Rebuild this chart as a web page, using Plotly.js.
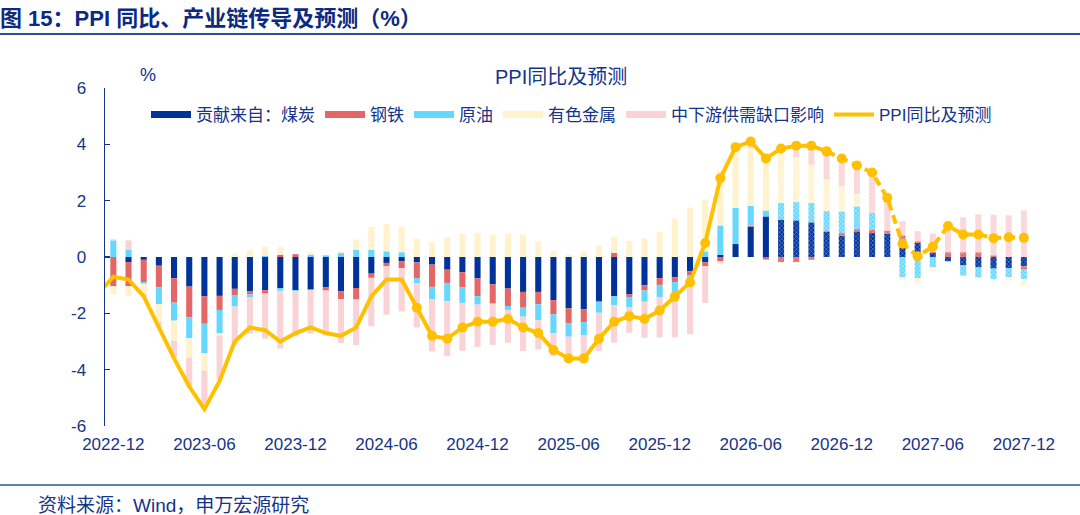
<!DOCTYPE html>
<html>
<head>
<meta charset="utf-8">
<script src="https://cdn.plot.ly/plotly-3.0.1.min.js"></script>
<style>
html,body{margin:0;padding:0;background:#fff;}
#chart{width:1080px;height:515px;}
</style>
</head>
<body>
<div id="chart"></div>
<script>
// ---------- DATA ----------
const months = ['2022-11','2022-12','2023-01','2023-02','2023-03','2023-04','2023-05','2023-06','2023-07','2023-08','2023-09','2023-10','2023-11','2023-12',
'2024-01','2024-02','2024-03','2024-04','2024-05','2024-06','2024-07','2024-08','2024-09','2024-10','2024-11','2024-12',
'2025-01','2025-02','2025-03','2025-04','2025-05','2025-06','2025-07','2025-08','2025-09','2025-10','2025-11','2025-12',
'2026-01','2026-02','2026-03','2026-04','2026-05','2026-06','2026-07','2026-08','2026-09','2026-10','2026-11','2026-12',
'2027-01','2027-02','2027-03','2027-04','2027-05','2027-06','2027-07','2027-08','2027-09','2027-10','2027-11','2027-12'];

const tickLabels = ['2022-12','2023-06','2023-12','2024-06','2024-12','2025-06','2025-12','2026-06','2026-12','2027-06','2027-12'];
const yTickVals = [-6,-4,-2,0,2,4,6];
const yTickText = ['-6','-4','-2','0','2','4','6'];

const coal = [null,0,-0.18,-0.1,-0.31,-0.75,-1.05,-1.4,-1.38,-1.13,-1.21,-1.18,-1.1,-1.18,
-1.16,-1.08,-1.22,-1.1,-0.59,-0.21,-0.15,-0.19,-0.27,-0.45,-0.54,-0.76,
-0.97,-1.12,-1.24,-1.24,-1.53,-1.82,-1.86,-1.56,-1.39,-1.33,-1.0,-0.75,
-0.72,-0.51,-0.19,0.08,0.46,1.07,1.44,1.33,1.3,1.23,0.89,0.76,
0.91,0.85,0.82,0.65,0.5,0.14,-0.15,-0.3,-0.37,-0.41,-0.39,-0.33];

const steel = [null,-1.04,-0.86,-0.79,-0.77,-0.87,-1.09,-0.97,-0.5,-0.24,-0.12,-0.12,0.08,0.1,
0,-0.11,-0.27,-0.41,-0.15,-0.12,-0.24,-0.56,-0.79,-0.47,-0.53,-0.63,
-0.67,-0.62,-0.56,-0.44,-0.51,-0.54,-0.45,-0.04,0.15,-0.09,-0.19,-0.24,
-0.17,-0.14,-0.14,-0.15,0,0.04,-0.09,-0.18,-0.18,-0.1,0.05,0.09,
0.08,0.11,0.12,0.12,0.06,0.04,0.17,0.17,0.17,0.06,0,-0.12];

const oil = [null,0.59,0.27,-0.06,-0.59,-0.64,-0.75,-1.04,-0.83,-0.39,-0.09,0.05,-0.1,-0.04,
0.08,0.06,0.14,0.26,0.26,0.2,0.17,-0.18,-0.43,-0.65,-0.56,-0.3,
-0.04,-0.14,-0.32,-0.56,-0.67,-0.47,-0.47,-0.38,-0.32,-0.36,-0.4,-0.44,
-0.36,-0.12,0.2,1.04,1.28,0.7,0.21,0.6,0.65,0.69,0.69,0.77,
0.81,0.6,0,-0.72,-0.75,-0.36,0,-0.36,-0.36,-0.37,-0.32,-0.33];

const nonferrous = [null,-0.28,-0.34,-0.36,-0.65,-0.71,-0.69,-0.62,-0.08,0.12,0.24,0.32,0.27,0,
0.08,0,0.06,0.36,0.8,0.97,0.9,0.65,0.52,0.7,0.83,0.86,
0.8,0.83,0.8,0.54,0.21,0.09,0.19,0.41,0.57,0.57,0.65,0.89,
1.36,1.76,1.84,1.95,2.16,2.05,1.94,1.9,1.6,1.34,1.13,0.89,
0.44,0,-0.09,-0.1,-0.18,-0.13,0,0,-0.03,-0.06,-0.12,-0.22];

const downstream = [null,0.04,0.32,-0.1,-0.18,-0.6,-1.0,-1.35,-1.55,-1.36,-1.3,-1.6,-2.05,-1.6,
-1.56,-1.6,-1.56,-1.62,-1.72,-1.72,-1.54,-1.57,-1.86,-1.95,-1.7,-1.5,
-1.44,-1.16,-1.22,-1.04,-0.8,-0.86,-1.0,-1.36,-1.33,-0.91,-1.28,-1.43,
-1.6,-1.97,-1.3,-0.08,0,0.18,0,0,0.3,0.6,0.95,0.95,
0.95,1.36,1.2,0.5,0.36,0.65,1.1,1.24,1.34,1.44,1.48,1.65];

const ppi = [-1.3,-0.7,-0.8,-1.4,-2.5,-3.6,-4.6,-5.4,-4.4,-3.0,-2.5,-2.6,-3.0,-2.7,
-2.5,-2.7,-2.8,-2.5,-1.4,-0.8,-0.8,-1.8,-2.8,-2.9,-2.5,-2.3,
-2.3,-2.2,-2.5,-2.7,-3.3,-3.6,-3.6,-2.9,-2.3,-2.1,-2.2,-1.9,
-1.4,-0.9,0.5,2.8,3.9,4.1,3.5,3.85,3.95,3.95,3.75,3.5,
3.25,3.0,2.1,0.47,0.03,0.37,1.1,0.8,0.8,0.67,0.7,0.68];

const seriesNames = ['贡献来自：煤炭','钢铁','原油','有色金属','中下游供需缺口影响'];
const lineName = 'PPI同比及预测';
const markerStart = '2024-08';   // line markers shown from here
const dashStart = '2026-11';     // dashed forecast line from here
const hatchStart = '2026-08';    // hatched forecast bars from here

// ---------- STYLE ----------
const NAVY = '#14348a';
const TITLE_NAVY = '#0c2a80';
const FONT = 'Liberation Sans, Arial, Noto Sans CJK SC, sans-serif';
const colors = ['#003399','#e46767','#66d7ff','#fff2cc','#f9d3d5'];
const hatchFg = ['#6f8fd6','#f4a9a9','#c9f1ff','#fffaf0','#fde9ea'];
const GOLD = '#ffc000';

const L=105, R=1031, T=88, B=426;
const W=R-L, H=B-T;
const px = v => (v-L)/W;
const py = v => (B-v)/H;

const series = [coal, steel, oil, nonferrous, downstream];
const traces = [];

series.forEach((vals, k) => {
  traces.push({
    type:'bar', x:months, y:vals, name:seriesNames[k], showlegend:false,
    marker:{color:colors[k], line:{width:0},
      pattern:{shape: months.map(m => m >= hatchStart ? 'x' : ''),
               fgcolor: hatchFg[k], bgcolor: colors[k], size:3, solidity:0.35, fillmode:'replace'}},
    hoverinfo:'skip'
  });
});

const iM = months.indexOf(markerStart);
const iD = months.indexOf(dashStart);

traces.push({type:'scatter', mode:'lines', x:months.slice(0,iM+1), y:ppi.slice(0,iM+1),
  line:{color:GOLD, width:4}, showlegend:false, hoverinfo:'skip'});
traces.push({type:'scatter', mode:'lines+markers', x:months.slice(iM,iD+1), y:ppi.slice(iM,iD+1),
  line:{color:GOLD, width:4}, marker:{color:GOLD, size:10}, showlegend:false, hoverinfo:'skip'});
traces.push({type:'scatter', mode:'lines+markers', x:months.slice(iD), y:ppi.slice(iD),
  line:{color:GOLD, width:4, dash:'9px,5px'}, marker:{color:GOLD, size:10}, showlegend:false, hoverinfo:'skip'});

// legend entries (wide swatches like the original)
seriesNames.forEach((n,k) => {
  traces.push({type:'scatter', mode:'lines', x:[null], y:[null], name:n,
    line:{color:colors[k], width:7}, showlegend:true, hoverinfo:'skip'});
});
traces.push({type:'scatter', mode:'lines', x:[null], y:[null], name:lineName,
  line:{color:GOLD, width:4}, showlegend:true, hoverinfo:'skip'});

const xr = [0.45, 61.47];
const minorVals = []; for (let i=0;i<months.length;i++) minorVals.push(i+0.5);
const majorVals = []; for (let i=0;i<months.length;i+=6) majorVals.push(i+0.5);

const layout = {
  width:1080, height:515,
  margin:{l:L, r:1080-R, t:T, b:515-B, pad:0},
  paper_bgcolor:'#fff', plot_bgcolor:'#fff',
  font:{family:FONT, color:NAVY, size:17},
  barmode:'relative', bargap:0.6,
  showlegend:true,
  legend:{orientation:'h', x:px(146), xanchor:'left', y:py(115), yanchor:'middle',
    bgcolor:'rgba(0,0,0,0)', font:{size:17, color:NAVY}, itemwidth:40, traceorder:'normal'},
  title:{text:'<b>图 15：PPI 同比、产业链传导及预测（%）</b>', xref:'container', yref:'container',
    x:0, xanchor:'left', y:1-18/515, yanchor:'middle', font:{size:22, color:TITLE_NAVY, family:FONT}},
  xaxis:{type:'category', categoryorder:'array', categoryarray:months, range:xr,
    tickmode:'array', tickvals:tickLabels, ticktext:tickLabels, ticks:'', showline:false,
    showgrid:false, zeroline:false, tickfont:{size:17, color:NAVY}, ticklabelstandoff:6, fixedrange:true},
  xaxis2:{type:'linear', overlaying:'x', anchor:'free', position:0.5, range:xr,
    showline:true, linecolor:NAVY, linewidth:2, ticks:'inside', ticklen:3, tickwidth:1.3, tickcolor:NAVY,
    tickmode:'array', tickvals:minorVals, showticklabels:false, showgrid:false, zeroline:false, layer:'above traces'},
  xaxis3:{type:'linear', overlaying:'x', anchor:'free', position:0.5, range:xr,
    showline:false, ticks:'outside', ticklen:5, tickwidth:1.3, tickcolor:NAVY,
    tickmode:'array', tickvals:majorVals, showticklabels:false, showgrid:false, zeroline:false, layer:'above traces'},
  yaxis:{range:[-6,6], tickmode:'array', tickvals:yTickVals, ticktext:yTickText, showline:true, linecolor:NAVY, linewidth:1.5,
    ticks:'inside', ticklen:5, tickcolor:NAVY, tickwidth:1.3, showgrid:false, zeroline:false,
    tickfont:{size:17, color:NAVY}, ticklabelstandoff:14, fixedrange:true},
  shapes:[
    {type:'line', xref:'paper', yref:'paper', x0:px(0), x1:px(1080), y0:py(34), y1:py(34), line:{color:'#2d4f9e', width:2}},
    {type:'line', xref:'paper', yref:'paper', x0:px(0), x1:px(1080), y0:py(485), y1:py(485), line:{color:'#2d4f9e', width:1.5}}
  ],
  annotations:[
    {text:'%', xref:'paper', yref:'paper', x:px(148), y:py(75), xanchor:'center', yanchor:'middle', showarrow:false, font:{size:18, color:NAVY}},
    {text:'PPI同比及预测', xref:'paper', yref:'paper', x:px(561), y:py(77), xanchor:'center', yanchor:'middle', showarrow:false, font:{size:20, color:NAVY}},
    {text:'资料来源：Wind，申万宏源研究', xref:'paper', yref:'paper', x:px(36), y:py(506), xanchor:'left', yanchor:'middle', showarrow:false, font:{size:19, color:NAVY}}
  ]
};

Plotly.newPlot('chart', traces, layout, {staticPlot:true, displayModeBar:false});
</script>
</body>
</html>
